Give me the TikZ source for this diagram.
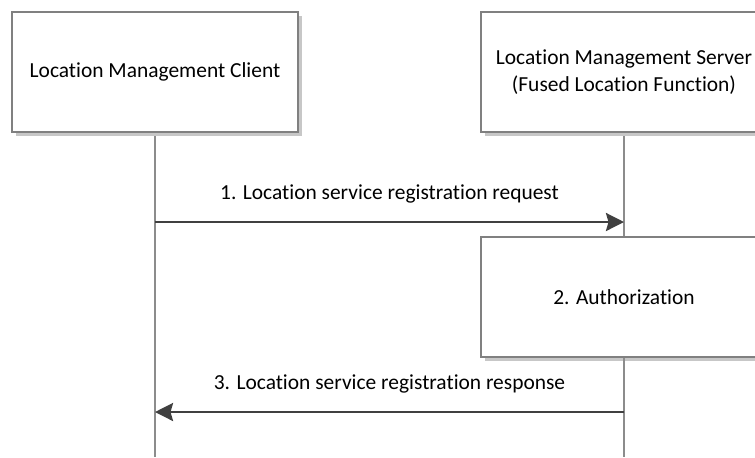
\documentclass[tikz,border=0pt]{standalone}
\usepackage{fontspec}
\setmainfont{Carlito}[Ligatures={NoCommon}]
\usetikzlibrary{arrows.meta,shadows}

\begin{document}
\begin{tikzpicture}[
        every node/.style={font=\fontsize{12.2}{15.4}\selectfont},
        entity/.style={
            rectangle,
            draw=black!50,
            fill=white,
            line width=0.6pt,
            minimum width=5.72cm,
            minimum height=2.4cm,
            align=center,
            drop shadow={shadow xshift=0.07cm, shadow yshift=-0.07cm,
                fill=black!22, opacity=1}
        },
        lifeline/.style={draw=black!45, line width=0.8pt},
        msg/.style={
            draw=black!75,
            line width=1.5pt,
            -{Stealth[length=3.6mm, width=3.6mm, inset=0.5mm]}
        },
        msg label/.style={midway, above=2.3mm}
    ]
    \useasboundingbox (0,0) rectangle (15.1,-9.14);
    \clip (0,0) rectangle (15.1,-9.14);

    % Lifelines
    \coordinate (client-end) at (3.1,-9.14);
    \coordinate (server-end) at (12.48,-9.14);
    \coordinate (req-a) at (3.1,-4.44);
    \coordinate (req-b) at (12.48,-4.44);
    \coordinate (resp-a) at (12.48,-8.24);
    \coordinate (resp-b) at (3.1,-8.24);

    \node[entity] (auth) at (12.48,-5.94) {2. Authorization};

    \draw[lifeline] (3.1,-2.64) -- (client-end);
    \draw[lifeline] (12.48,-2.64) -- (auth.north);
    \draw[lifeline] (auth.south) -- (server-end);

    % Entities
    \node[entity] (client) at (3.1,-1.44) {Location Management Client};
    \node[entity] (server) at (12.48,-1.44) {Location Management Server\\(Fused Location Function)};

    % Messages
    \draw[msg] (req-a) -- node[msg label] {1. Location service registration request} (req-b);
    \draw[msg] (resp-a) -- node[msg label] {3. Location service registration response} (resp-b);

\end{tikzpicture}
\end{document}
